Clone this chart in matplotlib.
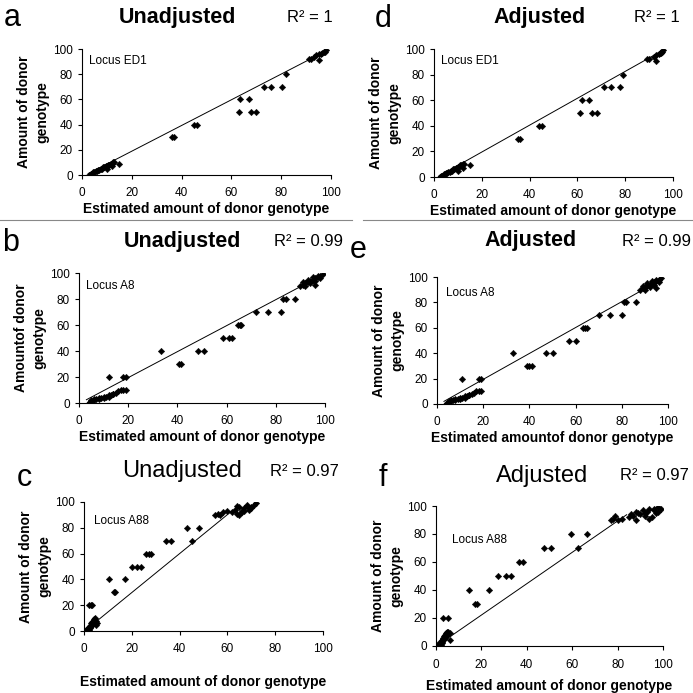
import numpy as np
import matplotlib.pyplot as plt
from matplotlib.lines import Line2D

plt.rcParams['font.family'] = ['Liberation Sans', 'DejaVu Sans']

# ---- data read off the picture (estimated amount, measured amount) ----
# a: Unadjusted, locus ED1
a_x = [3, 3.5, 4, 4.5, 5, 5.5, 6, 6.5, 7, 7.5, 8, 8.5, 9, 9.5, 10, 10.5, 11, 11.5, 12, 12.5, 13, 10, 12, 15,
       36, 37, 45, 46, 63, 63.5, 67, 68, 70, 73, 76, 80.5, 82,
       91, 92, 95, 93, 94, 95, 96, 96.5, 97, 97.5, 98]
a_y = [0, 1, 1, 2, 2, 3, 3, 4, 4, 5, 5, 6, 6, 7, 7, 8, 8, 9, 9, 10, 10, 5, 7, 9,
       30, 30, 40, 40, 50, 60, 60, 50, 50, 70, 70, 70, 80,
       92, 92, 91, 94, 95, 96, 96, 97, 98, 98, 99]

# b: Unadjusted, locus A8
b_x = [4, 4.5, 5, 6, 7, 8, 9, 10, 11, 12, 13, 14, 15, 16, 17, 18, 19, 6, 8, 10, 12, 14,
       12, 18, 19, 33.5, 40.5, 41.5, 48.5, 51, 58.5, 61, 62, 64.5, 65.5, 66,
       72, 77, 82, 83, 84, 88,
       90, 91, 92, 93, 94, 95, 96, 97, 98, 99, 91, 93, 95, 97, 92, 94, 96, 98, 96]
b_y = [0, 1, 2, 2, 3, 3, 4, 4, 5, 5, 6, 7, 8, 9, 10, 10, 10, 3, 4, 5, 6, 7,
       20, 20, 20, 40, 30, 30, 40, 40, 50, 50, 50, 60, 60, 60,
       70, 70, 70, 80, 80, 80,
       90, 91, 92, 93, 94, 95, 96, 97, 98, 99, 93, 95, 97, 98, 90, 92, 94, 96, 91]

# c: Unadjusted, locus A88
c_x = [1, 1, 1.5, 1.5, 2, 2, 2, 2.5, 2.5, 3, 3, 3, 3.5, 3.5, 4, 4, 4, 4.5, 4.5, 5, 5, 5.5, 1.5, 2.5,
       2, 3, 3.5,
       10.5, 12.5, 13, 17, 20, 22, 24, 26, 27, 28, 34.5, 36.5, 43, 45, 48,
       55, 56, 57, 58, 60, 62, 63, 64, 65, 66, 67, 68, 69, 70, 71, 72, 64, 66, 68, 70, 65, 67]
c_y = [0, 1, 1, 2, 2, 3, 1, 3, 4, 4, 5, 6, 5, 7, 6, 8, 9, 7, 10, 5, 8, 6, 0, 2,
       20, 20, 20,
       40, 30, 30, 40, 50, 50, 50, 60, 60, 60, 70, 70, 80, 70, 80,
       90, 91, 90, 92, 93, 92, 94, 91, 96, 93, 95, 97, 94, 96, 98, 99, 97, 92, 98, 95, 90, 93]

# d: Adjusted, locus ED1
d_x = [2.5, 3, 3.5, 4, 4.5, 5, 5.5, 6, 6.5, 7, 7.5, 8, 8.5, 9, 9.5, 10, 10.5, 11, 11.5, 12, 12.5, 10, 12, 15,
       35, 36, 44, 45, 61, 62, 65, 66, 68, 71, 74, 78, 79,
       89, 90, 93, 92, 93, 94, 94.5, 95, 95.5, 96]
d_y = [0, 1, 1, 2, 2, 3, 3, 4, 4, 5, 5, 6, 6, 7, 7, 8, 8, 9, 9, 10, 10, 5, 7, 9,
       30, 30, 40, 40, 50, 60, 60, 50, 50, 70, 70, 70, 80,
       92, 92, 91, 94, 95, 96, 97, 97, 98, 99]

# e: Adjusted, locus A8
e_x = [4, 4.5, 5, 6, 7, 8, 9, 10, 11, 12, 13, 14, 15, 16, 17, 18, 19, 6, 8, 10, 12, 14,
       11, 18, 19, 33, 39, 40, 41, 47, 50, 57, 60, 63, 64, 65,
       70, 75, 80, 81, 82, 86,
       88, 89, 90, 91, 92, 93, 94, 95, 96, 97, 89, 91, 93, 95, 90, 92, 94, 96, 95]
e_y = [0, 1, 2, 2, 3, 3, 4, 4, 5, 5, 6, 7, 8, 9, 10, 10, 10, 3, 4, 5, 6, 7,
       20, 20, 20, 40, 30, 30, 30, 40, 40, 50, 50, 60, 60, 60,
       70, 70, 70, 80, 80, 80,
       90, 91, 92, 93, 94, 95, 96, 97, 98, 99, 93, 95, 97, 98, 90, 92, 94, 96, 91]

# f: Adjusted, locus A88
f_x = [1, 1, 1.5, 1.5, 2, 2, 2, 2.5, 2.5, 3, 3, 3, 3.5, 3.5, 4, 4, 4.5, 4.5, 5, 5, 5.5, 5.5, 6, 6, 1.5, 2.5,
       3, 5.5, 14.5, 17, 18, 23.5, 27.5, 31, 33, 36.5, 38.5, 47.5, 50.5, 59.5, 62.5, 66.5,
       77, 78, 79, 80, 82, 85, 86, 87, 88, 89, 90, 91, 92, 93, 94, 95, 96, 97, 98, 99, 88, 92, 94, 96, 98]
f_y = [0, 1, 1, 2, 2, 3, 1, 3, 4, 4, 5, 6, 5, 7, 6, 8, 7, 9, 8, 10, 9, 10, 9, 4, 0, 2,
       20, 20, 40, 30, 30, 40, 50, 50, 50, 60, 60, 70, 70, 80, 70, 80,
       90, 91, 93, 90, 91, 92, 94, 93, 96, 95, 94, 97, 93, 96, 98, 92, 97, 95, 99, 98, 90, 95, 91, 98, 96]

# linear trendlines as drawn in the figure: slope, intercept, x range
trend_slope = [1.02, 1.0, 1.51, 1.05, 1.02, 1.12]
trend_intercept = [-1.5, -0.5, -0.4, -1.5, -1.0, -0.3]
trend_xmin = [2.5, 3, 1, 2, 3, 1]
trend_xmax = [97, 98, 62, 95, 96, 84]

titles = ['Unadjusted'] * 3 + ['Adjusted'] * 3
r2_labels = ['1', '0.99', '0.97', '1', '0.99', '0.97']
loci = ['Locus ED1', 'Locus A8', 'Locus A88'] * 2
letters = ['a', 'b', 'c', 'd', 'e', 'f']
all_x = [a_x, b_x, c_x, d_x, e_x, f_x]
all_y = [a_y, b_y, c_y, d_y, e_y, f_y]

# axes boxes in pixels: left, top, right, bottom
boxes = [[82, 49, 331, 175], [79, 273, 325, 403], [84, 502, 323, 631],
         [434, 49, 673, 177], [437, 277, 668, 404], [436, 506, 663, 646]]
locus_pos = [(0.03, 0.95), (0.03, 0.95), (0.04, 0.9), (0.03, 0.95), (0.04, 0.92), (0.07, 0.8)]
xlabel_pad = [2, 2, 14, 2, 2, 6]
# heading positions in pixels: letter (x, y), title (x, y), R2 (x, y)
letter_pos = [(12, 18), (11, 243), (24, 478), (383, 19), (358, 250), (383, 478)]
title_pos = [(177, 17), (182, 242), (182, 471), (540, 17), (531, 241), (542, 476)]
r2_pos = [(310, 17), (309, 242), (304, 472), (657, 17), (657, 242), (654, 476)]

W = 693.0
fig = plt.figure(figsize=(6.93, 6.93), dpi=100)


def fx(px):
    return px / W


def fy(py):
    return 1 - py / W


for i in range(6):
    l, t, r, b = boxes[i]
    ax = fig.add_axes([fx(l), fy(b), (r - l) / W, (b - t) / W])
    ax.plot(all_x[i], all_y[i], 'D', color='black', markersize=3.3, markeredgewidth=0.3)
    xl = np.array([trend_xmin[i], trend_xmax[i]])
    ax.plot(xl, trend_slope[i] * xl + trend_intercept[i], color='black', linewidth=0.7)
    ax.set_xlim(0, 100)
    ax.set_ylim(0, 100)
    ax.set_xticks(range(0, 101, 20))
    ax.set_yticks(range(0, 101, 20))
    ax.tick_params(labelsize=8.5, length=3, width=0.8, direction='out')
    ax.tick_params(axis='x', pad=6)
    for s in ['top', 'right']:
        ax.spines[s].set_visible(False)
    ax.text(locus_pos[i][0], locus_pos[i][1], loci[i], transform=ax.transAxes,
            fontsize=8.5, va='top')
    xlab = 'Estimated amount of donor genotype'
    if letters[i] == 'e':
        xlab = 'Estimated amountof donor genotype'
    ylab = 'Amountof donor\ngenotype' if letters[i] == 'b' else 'Amount of donor\ngenotype'
    ax.set_xlabel(xlab, fontsize=10, fontweight='bold', labelpad=xlabel_pad[i])
    ax.set_ylabel(ylab, fontsize=10, fontweight='bold', labelpad=3, linespacing=1.35)

    # panel heading
    fig.text(fx(letter_pos[i][0]), fy(letter_pos[i][1]), letters[i], fontsize=22,
             ha='center', va='center')
    if letters[i] in 'cf':
        fig.text(fx(title_pos[i][0]), fy(title_pos[i][1]), titles[i], fontsize=17,
                 ha='center', va='center')
    else:
        fig.text(fx(title_pos[i][0]), fy(title_pos[i][1]), titles[i], fontsize=15.5,
                 fontweight='bold', ha='center', va='center')
    fig.text(fx(r2_pos[i][0]), fy(r2_pos[i][1]), 'R\u00b2 = ' + r2_labels[i], fontsize=12,
             ha='center', va='center')

# separator lines under the top row
fig.add_artist(Line2D([0, fx(352)], [fy(220), fy(220)], color='#888888', linewidth=0.8))
fig.add_artist(Line2D([fx(363), 1], [fy(220), fy(220)], color='#888888', linewidth=0.8))

plt.savefig('out.png', dpi=100)
